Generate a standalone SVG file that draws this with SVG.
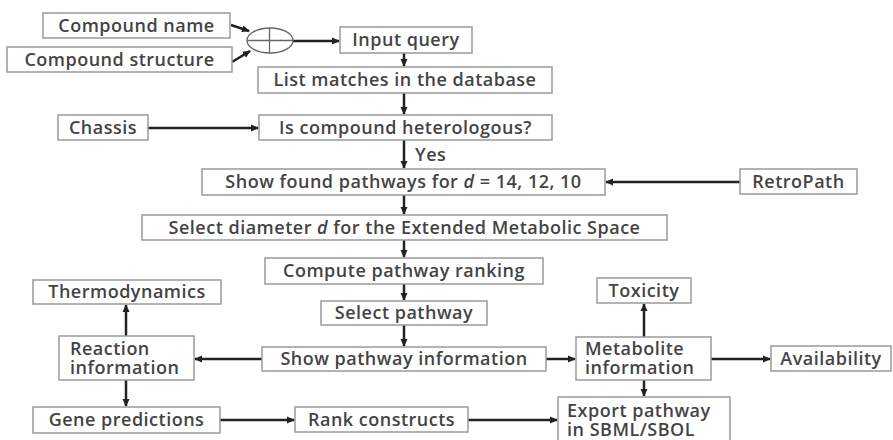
<svg xmlns="http://www.w3.org/2000/svg" width="893" height="440" viewBox="0 0 893 440">
<style>
.box{fill:#fff;stroke:#9a9a9a;stroke-width:1.5}
.t{font-family:"Open Sans","DejaVu Sans",sans-serif;font-size:18px;font-weight:600;letter-spacing:0.5px;fill:#444;text-anchor:middle}
.l{text-anchor:start}
.c{stroke:#222;stroke-width:2.5;fill:none}
.thin{stroke:#666;stroke-width:1.3;fill:none}
</style>
<defs>
<marker id="ah" markerWidth="8" markerHeight="8" refX="7" refY="4" orient="auto" markerUnits="userSpaceOnUse">
<path d="M0,0.5 L8,4 L0,7.5 Z" fill="#222"/>
</marker>
</defs>
<rect width="893" height="440" fill="#fff"/>
<g id="connectors">
<line class="c" x1="231" y1="25" x2="249" y2="31" marker-end="url(#ah)"/>
<line class="c" x1="232" y1="62" x2="250" y2="51" marker-end="url(#ah)"/>
<line class="c" x1="293" y1="41" x2="339" y2="41" marker-end="url(#ah)"/>
<line class="c" x1="404" y1="53" x2="404" y2="66" marker-end="url(#ah)"/>
<line class="c" x1="404" y1="93" x2="404" y2="114" marker-end="url(#ah)"/>
<line class="c" x1="148" y1="128" x2="258" y2="128" marker-end="url(#ah)"/>
<line class="c" x1="404" y1="140" x2="404" y2="168" marker-end="url(#ah)"/>
<text class="t l" x="415" y="161">Yes</text>
<line class="c" x1="740" y1="182" x2="606" y2="182" marker-end="url(#ah)"/>
<line class="c" x1="404" y1="195" x2="404" y2="214" marker-end="url(#ah)"/>
<line class="c" x1="404" y1="240" x2="404" y2="257" marker-end="url(#ah)"/>
<line class="c" x1="404" y1="284" x2="404" y2="300" marker-end="url(#ah)"/>
<line class="c" x1="404" y1="325" x2="404" y2="346" marker-end="url(#ah)"/>
<line class="c" x1="262" y1="359" x2="195" y2="359" marker-end="url(#ah)"/>
<line class="c" x1="546" y1="359" x2="575" y2="359" marker-end="url(#ah)"/>
<line class="c" x1="126" y1="336" x2="126" y2="305" marker-end="url(#ah)"/>
<line class="c" x1="126" y1="380" x2="126" y2="406" marker-end="url(#ah)"/>
<line class="c" x1="220" y1="420" x2="294" y2="420" marker-end="url(#ah)"/>
<line class="c" x1="468" y1="420" x2="557" y2="420" marker-end="url(#ah)"/>
<line class="c" x1="644" y1="337" x2="644" y2="304" marker-end="url(#ah)"/>
<line class="c" x1="644" y1="380" x2="644" y2="396" marker-end="url(#ah)"/>
<line class="c" x1="711" y1="359" x2="770" y2="359" marker-end="url(#ah)"/>
</g>
<g id="or">
<ellipse cx="270" cy="40.5" rx="23" ry="12.5" fill="#fff" stroke="#666" stroke-width="1.3"/>
<line class="thin" x1="247" y1="40.5" x2="293" y2="40.5"/>
<line class="thin" x1="269.5" y1="28" x2="269.5" y2="53"/>
</g>
<g id="compound-name"><rect class="box" x="43" y="13" width="187" height="25"/><text class="t" x="136.5" y="32">Compound name</text></g>
<g id="compound-structure"><rect class="box" x="7" y="47" width="225" height="25"/><text class="t" x="119.5" y="66">Compound structure</text></g>
<g id="input-query"><rect class="box" x="340" y="27" width="132" height="26"/><text class="t" x="406" y="46">Input query</text></g>
<g id="list-matches"><rect class="box" x="258" y="67" width="294" height="26"/><text class="t" x="405" y="86">List matches in the database</text></g>
<g id="chassis"><rect class="box" x="58" y="115" width="90" height="25"/><text class="t" x="103" y="134">Chassis</text></g>
<g id="heterologous"><rect class="box" x="259" y="115" width="293" height="25"/><text class="t" x="405.5" y="134">Is compound heterologous?</text></g>
<g id="show-found"><rect class="box" x="202" y="169" width="403" height="26"/><text class="t" x="403.5" y="188">Show found pathways for <tspan font-style="italic">d</tspan> = 14, 12, 10</text></g>
<g id="retropath"><rect class="box" x="740" y="169" width="117" height="25"/><text class="t" x="798.5" y="188">RetroPath</text></g>
<g id="select-diameter"><rect class="box" x="142" y="215" width="525" height="25"/><text class="t" x="404.5" y="234">Select diameter <tspan font-style="italic">d</tspan> for the Extended Metabolic Space</text></g>
<g id="compute-ranking"><rect class="box" x="265" y="258" width="278" height="26"/><text class="t" x="404" y="277">Compute pathway ranking</text></g>
<g id="thermodynamics"><rect class="box" x="33" y="280" width="188" height="24"/><text class="t" x="127" y="298">Thermodynamics</text></g>
<g id="toxicity"><rect class="box" x="597" y="278" width="94" height="25"/><text class="t" x="644" y="297">Toxicity</text></g>
<g id="select-pathway"><rect class="box" x="321" y="301" width="166" height="24"/><text class="t" x="404" y="319">Select pathway</text></g>
<g id="reaction-info"><rect class="box" x="59" y="336" width="135" height="44"/><text class="t l" x="70" y="355">Reaction</text><text class="t l" x="70" y="374">information</text></g>
<g id="show-pathway-info"><rect class="box" x="262" y="347" width="284" height="24"/><text class="t" x="404" y="365">Show pathway information</text></g>
<g id="metabolite-info"><rect class="box" x="576" y="337" width="135" height="43"/><text class="t l" x="585" y="355">Metabolite</text><text class="t l" x="585" y="374">information</text></g>
<g id="availability"><rect class="box" x="771" y="346" width="120" height="25"/><text class="t" x="831" y="365">Availability</text></g>
<g id="gene-predictions"><rect class="box" x="33" y="407" width="187" height="26"/><text class="t" x="126.5" y="426">Gene predictions</text></g>
<g id="rank-constructs"><rect class="box" x="295" y="407" width="173" height="25"/><text class="t" x="381.5" y="426">Rank constructs</text></g>
<g id="export"><rect class="box" x="558" y="397" width="172" height="50"/><text class="t l" x="567" y="417">Export pathway</text><text class="t l" x="567" y="436">in SBML/SBOL</text></g>
</svg>
